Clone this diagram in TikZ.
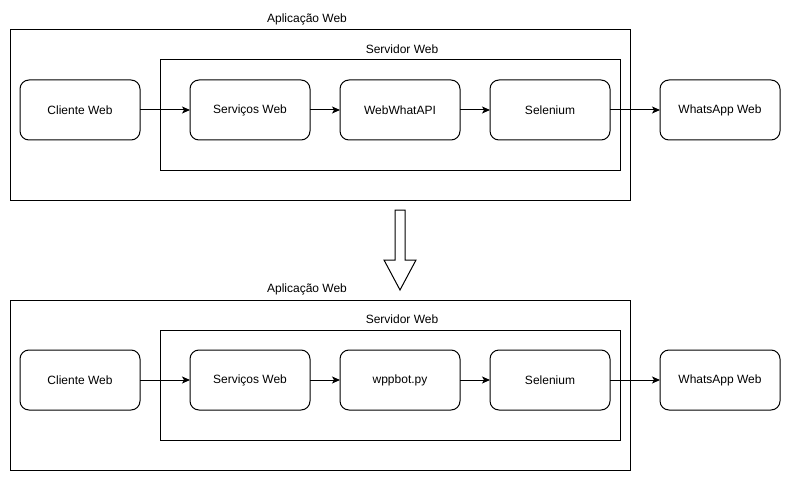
\documentclass[tikz,border=0pt]{standalone}
\usepackage{fontspec}
\setmainfont{Liberation Sans}
\usetikzlibrary{positioning,arrows.meta}

\tikzset{
  box/.style={draw, rounded corners=9pt, line width=1pt, minimum width=120pt,
    minimum height=60pt, outer sep=0pt, font=\fontsize{12pt}{14pt}\selectfont},
  frame/.style={draw, line width=1pt, inner sep=0pt, outer sep=0pt},
  caption/.style={font=\fontsize{12pt}{14pt}\selectfont, inner sep=0pt},
  link/.style={line width=1pt, -{Stealth[length=8pt,width=7pt,inset=2pt]}}
}

\begin{document}
\begin{tikzpicture}[x=1pt, y=-1pt]
  \useasboundingbox (0,0) rectangle (791,481);

  % antes
  \begin{scope}
    \node[frame, minimum width=620pt, minimum height=170pt] (appA) at (320,115) {};
    \node[caption] (appAlbl) at (307,19.5) {Aplicação Web};
    \node[frame, minimum width=460pt, minimum height=110pt] (srvA) at (390,115) {};
    \node[caption] (srvAlbl) at (402,49.5) {Servidor Web};

    \node[box] (clienteA) at (80,110) {Cliente Web};
    \node[box, right=50pt of clienteA] (servicosA) {Serviços Web};
    \node[box, right=30pt of servicosA] (apiA) {WebWhatAPI};
    \node[box, right=30pt of apiA] (seleniumA) {Selenium};
    \node[box, right=50pt of seleniumA] (whatsA) {WhatsApp Web};

    \draw[link] (clienteA) -- (servicosA);
    \draw[link] (servicosA) -- (apiA);
    \draw[link] (apiA) -- (seleniumA);
    \draw[link] (seleniumA) -- (whatsA);
  \end{scope}

  % seta grande
  \draw[line width=1pt, line join=miter] (395,210) -- (405,210) -- (405,260) -- (416,260)
    -- (400,290) -- (384,260) -- (395,260) -- cycle;

  % depois
  \begin{scope}[shift={(0,270)}]
    \node[frame, minimum width=620pt, minimum height=170pt] (appB) at (320,115) {};
    \node[caption] (appBlbl) at (307,19.5) {Aplicação Web};
    \node[frame, minimum width=460pt, minimum height=110pt] (srvB) at (390,115) {};
    \node[caption] (srvBlbl) at (402,49.5) {Servidor Web};

    \node[box] (clienteB) at (80,110) {Cliente Web};
    \node[box, right=50pt of clienteB] (servicosB) {Serviços Web};
    \node[box, right=30pt of servicosB] (botB) {wppbot.py};
    \node[box, right=30pt of botB] (seleniumB) {Selenium};
    \node[box, right=50pt of seleniumB] (whatsB) {WhatsApp Web};

    \draw[link] (clienteB) -- (servicosB);
    \draw[link] (servicosB) -- (botB);
    \draw[link] (botB) -- (seleniumB);
    \draw[link] (seleniumB) -- (whatsB);
  \end{scope}
\end{tikzpicture}
\end{document}
